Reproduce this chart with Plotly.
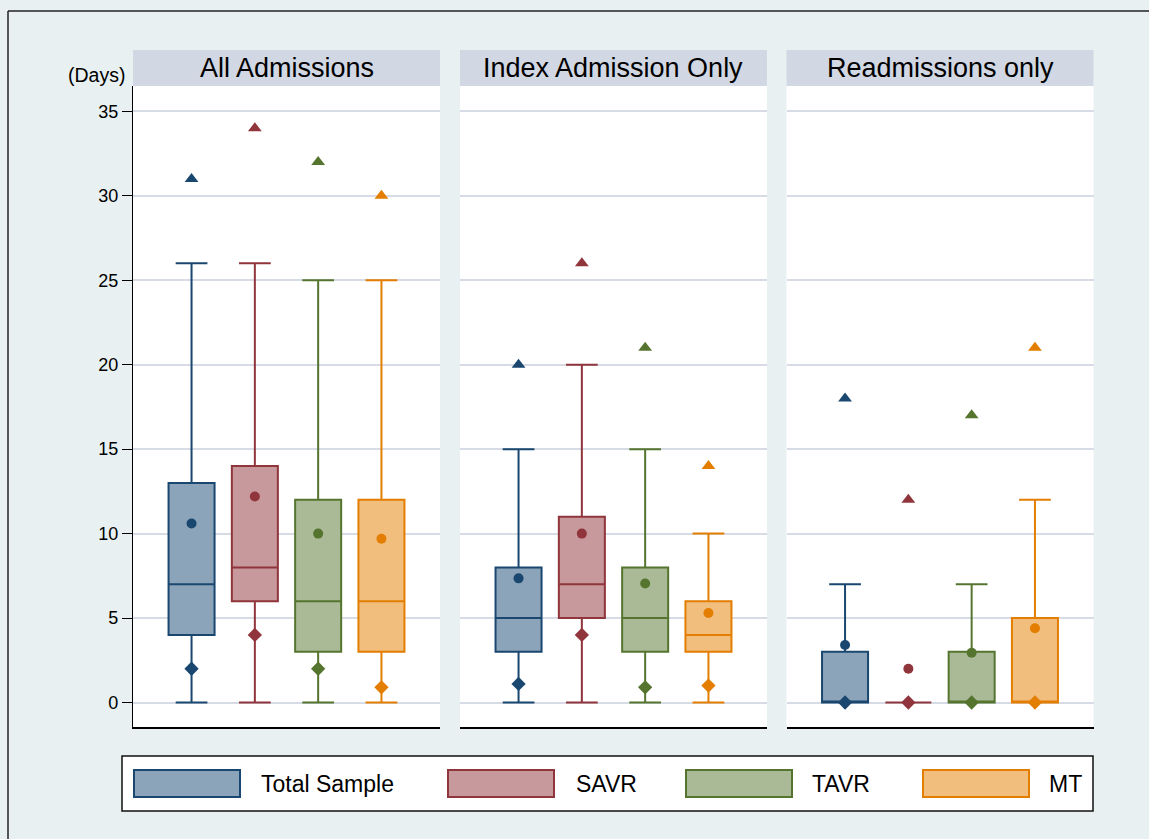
import plotly.graph_objects as go

W, H = 1149, 839

groups = ["Total Sample", "SAVR", "TAVR", "MT"]
panels = ["All Admissions", "Index Admission Only", "Readmissions only"]
y_ticks = [0, 5, 10, 15, 20, 25, 30, 35]

line_colors = ["#1a476f", "#90353b", "#55752f", "#e37e00"]
fill_colors = ["#8ca4b9", "#c8999c", "#abba96", "#f1be7e"]

# Length of stay (days): whiskers, quartiles, median, mean and the two marker points
# -- All Admissions
lo_all = [0, 0, 0, 0]
q1_all = [4, 6, 3, 3]
med_all = [7, 8, 6, 6]
q3_all = [13, 14, 12, 12]
hi_all = [26, 26, 25, 25]
mean_all = [10.6, 12.2, 10.0, 9.7]
low_pt_all = [2, 4, 2, 0.9]
high_pt_all = [31, 34, 32, 30]

# -- Index Admission Only
lo_idx = [0, 0, 0, 0]
q1_idx = [3, 5, 3, 3]
med_idx = [5, 7, 5, 4]
q3_idx = [8, 11, 8, 6]
hi_idx = [15, 20, 15, 10]
mean_idx = [7.35, 10.0, 7.05, 5.3]
low_pt_idx = [1.1, 4, 0.9, 1.0]
high_pt_idx = [20, 26, 21, 14]

# -- Readmissions only
lo_re = [0, 0, 0, 0]
q1_re = [0, 0, 0, 0]
med_re = [0, 0, 0, 0]
q3_re = [3, 0, 3, 5]
hi_re = [7, 0, 7, 12]
mean_re = [3.4, 2.0, 2.95, 4.4]
low_pt_re = [0, 0, 0, 0]
high_pt_re = [18, 12, 17, 21]

stats = [
    (lo_all, q1_all, med_all, q3_all, hi_all, mean_all, low_pt_all, high_pt_all),
    (lo_idx, q1_idx, med_idx, q3_idx, hi_idx, mean_idx, low_pt_idx, high_pt_idx),
    (lo_re, q1_re, med_re, q3_re, hi_re, mean_re, low_pt_re, high_pt_re),
]


def px(x):
    return x / W


def py(y):
    return 1 - y / H


FONT = "Liberation Sans, Arial, Helvetica, sans-serif"

panel_left = [133, 460, 786.5]
panel_w = 307
plot_top, plot_bot = 86, 727
strip_top = 50

fig = go.Figure()
positions = list(range(len(groups)))

for p, (lo, q1, med, q3, hi, mean, lowp, highp) in enumerate(stats):
    sfx = "" if p == 0 else str(p + 1)
    xa, ya = "x" + sfx, "y" + sfx
    for g in range(len(groups)):
        fig.add_trace(go.Box(
            x=[positions[g]], q1=[q1[g]], median=[med[g]], q3=[q3[g]],
            lowerfence=[lo[g]], upperfence=[hi[g]],
            width=0.727, whiskerwidth=0.69,
            fillcolor=fill_colors[g],
            line=dict(color=line_colors[g], width=2),
            boxpoints=False, showlegend=False, hoverinfo="skip",
            xaxis=xa, yaxis=ya,
        ))
    for vals, sym, size in [(highp, "triangle-up", 12), (lowp, "diamond", 11), (mean, "circle", 10)]:
        fig.add_trace(go.Scatter(
            x=positions, y=vals, mode="markers",
            marker=dict(symbol=sym, size=size, color=line_colors, line=dict(width=0)),
            showlegend=False, hoverinfo="skip", xaxis=xa, yaxis=ya,
        ))

layout = dict(
    width=W, height=H, autosize=False,
    margin=dict(l=0, r=0, t=0, b=0),
    paper_bgcolor="#e8f0f2",
    plot_bgcolor="#ffffff",
    font=dict(family=FONT, color="#000000"),
    hovermode=False,
)

shapes = []
annotations = []

for p in range(3):
    sfx = "" if p == 0 else str(p + 1)
    x0 = panel_left[p]
    x1 = x0 + panel_w
    layout["xaxis" + sfx] = dict(
        domain=[px(x0), px(x1)], range=[-0.925, 3.925],
        showgrid=False, zeroline=False, showticklabels=False, ticks="",
        showline=True, linecolor="#000000", linewidth=2,
        anchor="y" + sfx, fixedrange=True,
    )
    layout["yaxis" + sfx] = dict(
        domain=[py(plot_bot), py(plot_top)], range=[-1.45, 36.5],
        tickvals=y_ticks, showgrid=True, gridcolor="#d7dbe6", gridwidth=1.5,
        zeroline=False, anchor="x" + sfx, fixedrange=True,
        showticklabels=(p == 0), ticks="outside" if p == 0 else "",
        ticklen=10, tickwidth=1, tickcolor="#000000",
        showline=(p == 0), linecolor="#000000", linewidth=1.2,
        tickfont=dict(size=18, family=FONT, color="#000000"),
    )
    # panel header strip
    shapes.append(dict(
        type="rect", xref="paper", yref="paper",
        x0=px(x0), x1=px(x1), y0=py(plot_top), y1=py(strip_top),
        fillcolor="#d1d7e3", line=dict(width=0), layer="below",
    ))
    annotations.append(dict(
        text=panels[p], xref="paper", yref="paper",
        x=px((x0 + x1) / 2), y=py((strip_top + plot_top) / 2),
        xanchor="center", yanchor="middle", showarrow=False,
        font=dict(size=27, family=FONT, color="#000000"),
    ))

# axis unit label
annotations.append(dict(
    text="(Days)", xref="paper", yref="paper", x=px(127), y=py(75),
    xanchor="right", yanchor="middle", showarrow=False,
    font=dict(size=19.5, family=FONT, color="#000000"),
))

# outer frame (top and left edges)
shapes.append(dict(type="line", xref="paper", yref="paper",
                   x0=px(8), x1=1.0, y0=py(11), y1=py(11),
                   line=dict(color="#222222", width=1.5)))
shapes.append(dict(type="line", xref="paper", yref="paper",
                   x0=px(8), x1=px(8), y0=py(11), y1=0.0,
                   line=dict(color="#222222", width=1.5)))

# legend
shapes.append(dict(type="rect", xref="paper", yref="paper",
                   x0=px(122), x1=px(1093), y0=py(811), y1=py(756),
                   fillcolor="#ffffff", line=dict(color="#111111", width=1.5)))
swatch_left = [134, 448, 686, 923]
text_left = [259, 574, 810, 1047]
for g in range(len(groups)):
    shapes.append(dict(type="rect", xref="paper", yref="paper",
                       x0=px(swatch_left[g]), x1=px(swatch_left[g] + 106),
                       y0=py(797), y1=py(770),
                       fillcolor=fill_colors[g],
                       line=dict(color=line_colors[g], width=2)))
    annotations.append(dict(
        text=groups[g], xref="paper", yref="paper",
        x=px(text_left[g]), y=py(784), xanchor="left", yanchor="middle",
        showarrow=False, font=dict(size=23, family=FONT, color="#000000"),
    ))

layout["shapes"] = shapes
layout["annotations"] = annotations
fig.update_layout(**layout)

fig.write_html("out.html")
